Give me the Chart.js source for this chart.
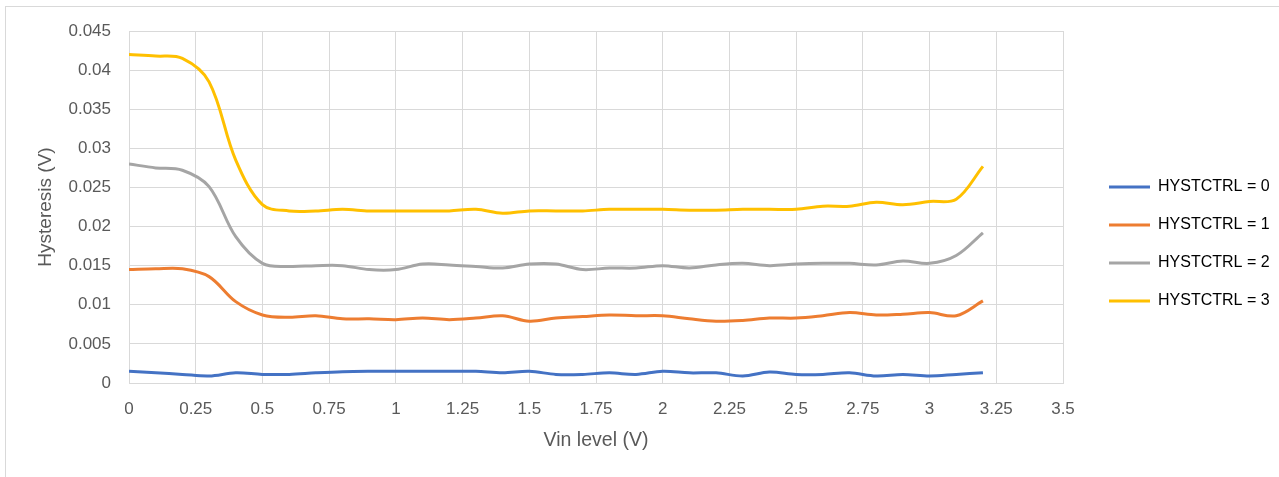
<!DOCTYPE html>
<html>
<head>
<meta charset="utf-8">
<script src="https://cdn.jsdelivr.net/npm/chart.js@4/dist/chart.umd.min.js"></script>
<style>
  html, body { margin: 0; padding: 0; background: #fff; overflow: hidden; }
  #frame { position: absolute; left: 5px; top: 6px; width: 1300px; height: 500px; border: 1px solid #d9d9d9; }
  #wrap { position: absolute; left: 0; top: 0; width: 1279px; height: 477px; }
</style>
</head>
<body>
<div id="frame"></div>
<div id="wrap"><canvas id="c" width="1279" height="477"></canvas></div>
<script>
// ---- data ----
const vin = [0, 0.1, 0.2, 0.3, 0.4, 0.5, 0.6, 0.7, 0.8, 0.9, 1.0, 1.1, 1.2, 1.3, 1.4, 1.5, 1.6,
             1.7, 1.8, 1.9, 2.0, 2.1, 2.2, 2.3, 2.4, 2.5, 2.6, 2.7, 2.8, 2.9, 3.0, 3.1, 3.2];
const hyst0 = [0.0015, 0.0013, 0.0011, 0.0009, 0.0013, 0.0011, 0.0011, 0.0013, 0.00145, 0.0015, 0.0015,
               0.0015, 0.0015, 0.0015, 0.0013, 0.0015, 0.0011, 0.0011, 0.0013, 0.0011, 0.0015, 0.0013,
               0.0013, 0.0009, 0.0014, 0.0011, 0.0011, 0.0013, 0.0009, 0.0011, 0.0009, 0.0011, 0.0013];
const hyst1 = [0.0145, 0.0146, 0.0146, 0.0136, 0.0104, 0.0087, 0.0084, 0.0086, 0.0082, 0.0082, 0.0081,
               0.0083, 0.0081, 0.0083, 0.0086, 0.0079, 0.0083, 0.0085, 0.0087, 0.0086, 0.0086, 0.0082,
               0.0079, 0.0080, 0.0083, 0.0083, 0.0086, 0.0090, 0.0087, 0.0088, 0.0090, 0.0086, 0.0105];
const hyst2 = [0.0280, 0.0275, 0.0272, 0.0251, 0.0187, 0.0153, 0.0149, 0.0150, 0.0150, 0.0145, 0.0145,
               0.0152, 0.0151, 0.0149, 0.0147, 0.0152, 0.0152, 0.0145, 0.0147, 0.0147, 0.0150, 0.0147,
               0.0151, 0.0153, 0.0150, 0.0152, 0.0153, 0.0153, 0.0151, 0.0156, 0.0153, 0.0163, 0.0192];
const hyst3 = [0.0420, 0.0418, 0.0415, 0.0385, 0.0285, 0.0228, 0.0220, 0.0220, 0.0222, 0.0220, 0.0220,
               0.0220, 0.0220, 0.0222, 0.0217, 0.0220, 0.0220, 0.0220, 0.0222, 0.0222, 0.0222, 0.0221,
               0.0221, 0.0222, 0.0222, 0.0222, 0.0226, 0.0226, 0.0231, 0.0228, 0.0232, 0.0235, 0.0277];
const seriesNames = ['HYSTCTRL = 0', 'HYSTCTRL = 1', 'HYSTCTRL = 2', 'HYSTCTRL = 3'];
const xTickValues = [0, 0.25, 0.5, 0.75, 1, 1.25, 1.5, 1.75, 2, 2.25, 2.5, 2.75, 3, 3.25, 3.5];
const xTickLabels = ['0', '0.25', '0.5', '0.75', '1', '1.25', '1.5', '1.75', '2', '2.25', '2.5', '2.75', '3', '3.25', '3.5'];
const yTickValues = [0, 0.005, 0.01, 0.015, 0.02, 0.025, 0.03, 0.035, 0.04, 0.045];
const yTickLabels = ['0', '0.005', '0.01', '0.015', '0.02', '0.025', '0.03', '0.035', '0.04', '0.045'];
const xTitle = 'Vin level (V)';
const yTitle = 'Hysteresis (V)';

// ---- styling ----
const colors = ['#4472C4', '#ED7D31', '#A5A5A5', '#FFC000'];
const allSeries = [hyst0, hyst1, hyst2, hyst3];
const TEXT = '#595959';
const GRID = '#d9d9d9';
const FONT = '"Liberation Sans", Arial, sans-serif';
const LEGEND_W = 216;
const LEGEND_DX = 24;
const LEGEND_DY = -2;

const datasets = allSeries.map((s, i) => ({
  label: seriesNames[i],
  data: vin.map((x, j) => ({ x: x, y: s[j] })),
  borderColor: colors[i],
  backgroundColor: colors[i],
  borderWidth: 3,
  pointRadius: 0,
  tension: 0.35,
  fill: false
}));

const legendTweak = {
  id: 'legendTweak',
  afterInit(chart) {
    const lg = chart.legend;
    if (!lg) return;
    const origFit = lg.fit;
    lg.fit = function () { origFit.apply(this, arguments); this.width = LEGEND_W; };
    const origDraw = lg.draw;
    lg.draw = function () {
      const ctx = this.ctx;
      ctx.save();
      ctx.translate(LEGEND_DX, LEGEND_DY);
      origDraw.apply(this, arguments);
      ctx.restore();
    };
  }
};

new Chart(document.getElementById('c'), {
  type: 'line',
  data: { datasets },
  plugins: [legendTweak],
  options: {
    responsive: false,
    animation: false,
    events: [],
    layout: { padding: { left: 23.5, top: 31, bottom: 16, right: 0 } },
    scales: {
      x: {
        type: 'linear',
        min: 0, max: 3.5,
        afterBuildTicks: (s) => { s.ticks = xTickValues.map(v => ({ value: v })); },
        afterFit: (s) => { s.height = 78; },
        ticks: {
          callback: (v, i) => xTickLabels[i],
          color: TEXT, font: { family: FONT, size: 17 },
          padding: 16, maxRotation: 0, autoSkip: false
        },
        grid: { color: GRID, lineWidth: 1, drawTicks: false },
        border: { color: GRID, width: 1 },
        title: {
          display: true, text: xTitle, color: TEXT,
          font: { family: FONT, size: 19.5 },
          padding: { top: 10, bottom: 8.5 }
        }
      },
      y: {
        type: 'linear',
        min: 0, max: 0.045,
        afterBuildTicks: (s) => { s.ticks = yTickValues.map(v => ({ value: v })); },
        afterFit: (s) => { s.width = 105.5; },
        ticks: {
          callback: (v, i) => yTickLabels[i],
          color: TEXT, font: { family: FONT, size: 17 },
          padding: 18, autoSkip: false
        },
        grid: { color: GRID, lineWidth: 1, drawTicks: false },
        border: { color: GRID, width: 1 },
        title: {
          display: true, text: yTitle, color: TEXT,
          font: { family: FONT, size: 19 },
          padding: { top: 11, bottom: 11 }
        }
      }
    },
    plugins: {
      tooltip: { enabled: false },
      legend: {
        display: true,
        position: 'right',
        align: 'center',
        labels: {
          boxWidth: 41,
          boxHeight: 3,
          padding: 22,
          color: TEXT,
          font: { family: FONT, size: 16 },
          generateLabels: (chart) => chart.data.datasets.map((d, i) => ({
            text: d.label,
            fillStyle: d.borderColor,
            strokeStyle: d.borderColor,
            lineWidth: 0,
            hidden: false,
            datasetIndex: i
          }))
        }
      }
    }
  }
});
</script>
</body>
</html>
